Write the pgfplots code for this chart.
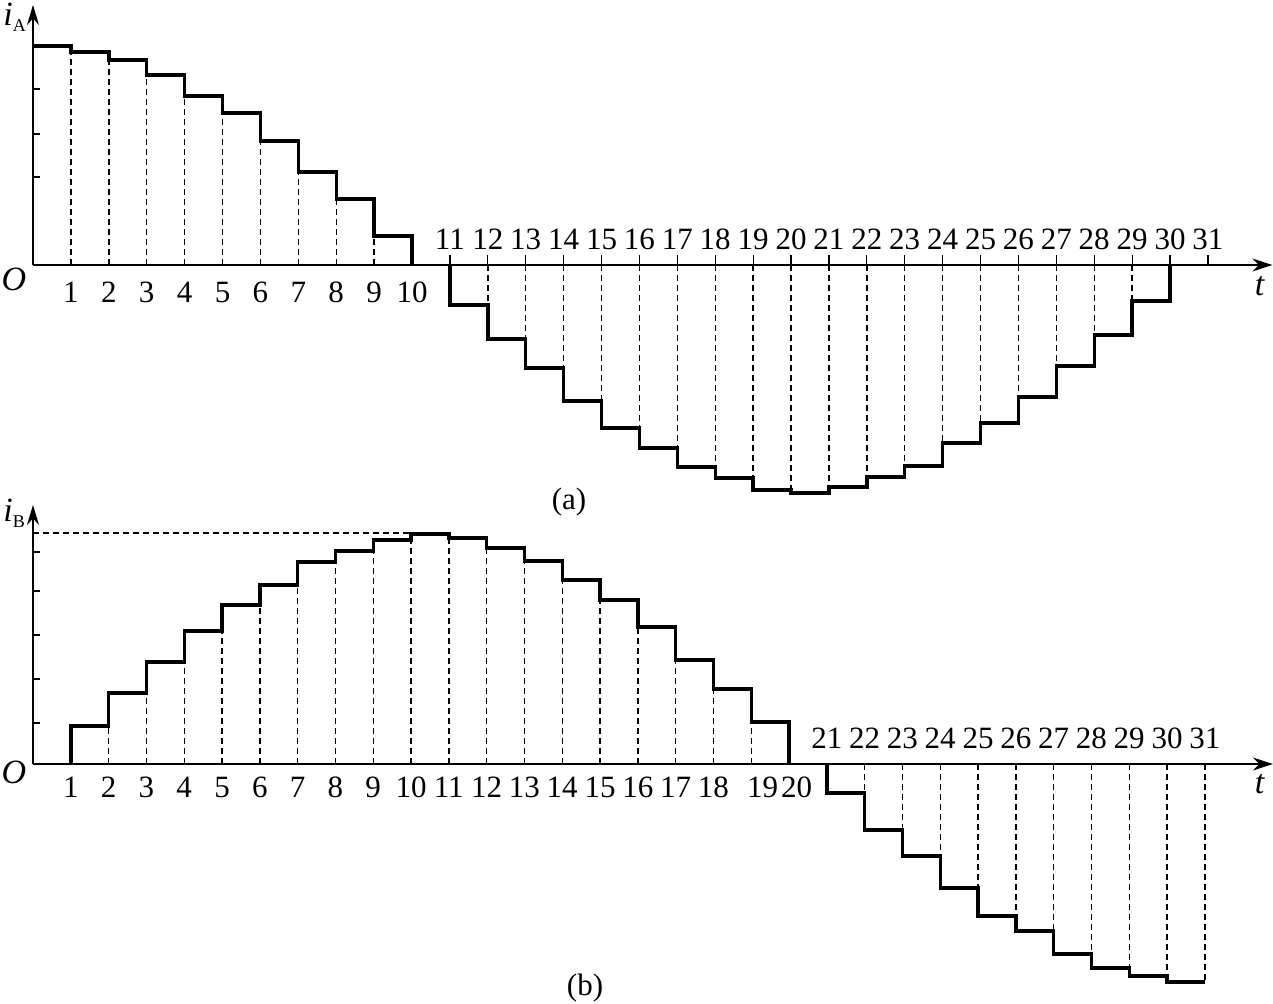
\documentclass[border=0pt]{standalone}
\usepackage{pgfplots}
\pgfplotsset{compat=1.18}
\usepackage{fontspec}
\setmainfont{Liberation Serif}
\usetikzlibrary{arrows.meta}
\begin{document}
\fontsize{15.5}{18}\selectfont
\begin{tikzpicture}
\useasboundingbox (0,0) rectangle (636.5pt,501.5pt);
% ---------------- panel (a) ----------------
\begin{axis}[
  at={(16.5pt,369pt)}, anchor=origin,
  x=18.95pt, y=0.5pt,
  xmin=0, xmax=32.7, ymin=-235, ymax=260,
  hide axis, clip=false,
]
\addplot[ycomb, no marks, line width=0.7pt, dash pattern=on 3pt off 2pt] coordinates {
 (1,213)(2,205)(3,190)(4,169)(5,152)(6,124)(7,93)(8,66)(9,29)
 (12,-40)(13,-74)(14,-103)(15,-136)(16,-163)(17,-183)(18,-202)(19,-213)(20,-225)
 (21,-222)(22,-212)(23,-201)(24,-178)(25,-158)(26,-132)(27,-101)(28,-70)(29,-36)};
\addplot[const plot, line width=1.7pt, line join=miter] coordinates {
 (0,219)(1,213)(2,205)(3,190)(4,169)(5,152)(6,124)(7,93)(8,66)(9,29)(10,0)};
\addplot[const plot, line width=1.7pt, line join=miter] coordinates {
 (11,0)(11,-40)(12,-74)(13,-103)(14,-136)(15,-163)(16,-183)(17,-202)(18,-213)(19,-225)
 (20,-228)(21,-222)(22,-212)(23,-201)(24,-178)(25,-158)(26,-132)(27,-101)(28,-70)(29,-36)(30,0)};
\draw[line width=0.7pt, -{Stealth[length=10pt,width=6.5pt]}] (axis cs:0,0) -- (axis cs:32.7,0);
\draw[line width=0.7pt, -{Stealth[length=10pt,width=6pt]}] (axis cs:0,0) -- (axis cs:0,260);
\pgfplotsinvokeforeach{88,131,176}{\draw[line width=0.6pt] (axis cs:0,#1) -- (axis cs:0.19,#1);}
\pgfplotsinvokeforeach{1,...,10}{\node[anchor=north, inner sep=0pt, yshift=-8.4pt] at (axis cs:#1,0) {#1};}
\pgfplotsinvokeforeach{11,...,31}{\draw[line width=0.6pt] (axis cs:#1,0) -- (axis cs:#1,10);
  \node[anchor=south, inner sep=0pt, yshift=7.5pt] at (axis cs:#1,0) {#1};}
\end{axis}
% ---------------- panel (b) ----------------
\begin{axis}[
  at={(16.5pt,119.5pt)}, anchor=origin,
  x=18.9pt, y=0.5pt,
  xmin=0, xmax=32.8, ymin=-225, ymax=259,
  hide axis, clip=false,
]
\addplot[ycomb, no marks, line width=0.7pt, dash pattern=on 3pt off 2pt] coordinates {
 (2,38)(3,71)(4,102)(5,133)(6,159)(7,179)(8,202)(9,213)(10,224)(11,226)
 (12,216)(13,203)(14,184)(15,164)(16,137)(17,104)(18,75)(19,42)
 (22,-29)(23,-66)(24,-92)(25,-124)(26,-152)(27,-167)(28,-190)(29,-204)(30,-212)(31,-218)};
\addplot[no marks, line width=0.7pt, dash pattern=on 3pt off 2pt] coordinates {(0,231)(10,231)};
\addplot[const plot, line width=1.7pt, line join=miter] coordinates {
 (1,0)(1,38)(2,71)(3,102)(4,133)(5,159)(6,179)(7,202)(8,213)(9,224)(10,230)
 (11,226)(12,216)(13,203)(14,184)(15,164)(16,137)(17,104)(18,75)(19,42)(20,0)};
\addplot[const plot, line width=1.7pt, line join=miter] coordinates {
 (21,0)(21,-29)(22,-66)(23,-92)(24,-124)(25,-152)(26,-167)(27,-190)(28,-204)(29,-212)(30,-218)(31,-218)};
\draw[line width=0.7pt, -{Stealth[length=10pt,width=6.5pt]}] (axis cs:0,0) -- (axis cs:32.8,0);
\draw[line width=0.7pt, -{Stealth[length=10pt,width=6pt]}] (axis cs:0,0) -- (axis cs:0,259);
\pgfplotsinvokeforeach{41,85,129,173,212}{\draw[line width=0.6pt] (axis cs:0,#1) -- (axis cs:0.19,#1);}
\pgfplotsinvokeforeach{1,...,18}{\node[anchor=north, inner sep=0pt, yshift=-6.4pt] at (axis cs:#1,0) {#1};}
\node[anchor=north, inner sep=0pt, yshift=-6.4pt] at (axis cs:19.3,0) {19};
\node[anchor=north, inner sep=0pt, yshift=-6.4pt] at (axis cs:20.2,0) {20};
\pgfplotsinvokeforeach{21,...,31}{\node[anchor=south, inner sep=0pt, yshift=7.5pt] at (axis cs:#1,0) {#1};}
\end{axis}
% ---------------- labels ----------------
\node at (7pt,362pt) {\fontsize{17}{20}\selectfont\textit{O}};
\node at (630pt,358.5pt) {\fontsize{17}{20}\selectfont\textit{t}};
\node[anchor=north west, inner sep=0pt] at (1.5pt,500pt) {\fontsize{17}{20}\selectfont\textit{i}\raisebox{-0.35ex}{\fontsize{9}{10}\selectfont A}};
\node at (284.5pt,250.5pt) {(a)};
\node at (7pt,115.5pt) {\fontsize{17}{20}\selectfont\textit{O}};
\node at (630pt,109.5pt) {\fontsize{17}{20}\selectfont\textit{t}};
\node[anchor=north west, inner sep=0pt] at (1.5pt,252pt) {\fontsize{17}{20}\selectfont\textit{i}\raisebox{-0.35ex}{\fontsize{9}{10}\selectfont B}};
\node at (292.5pt,7.5pt) {(b)};
\end{tikzpicture}
\end{document}
